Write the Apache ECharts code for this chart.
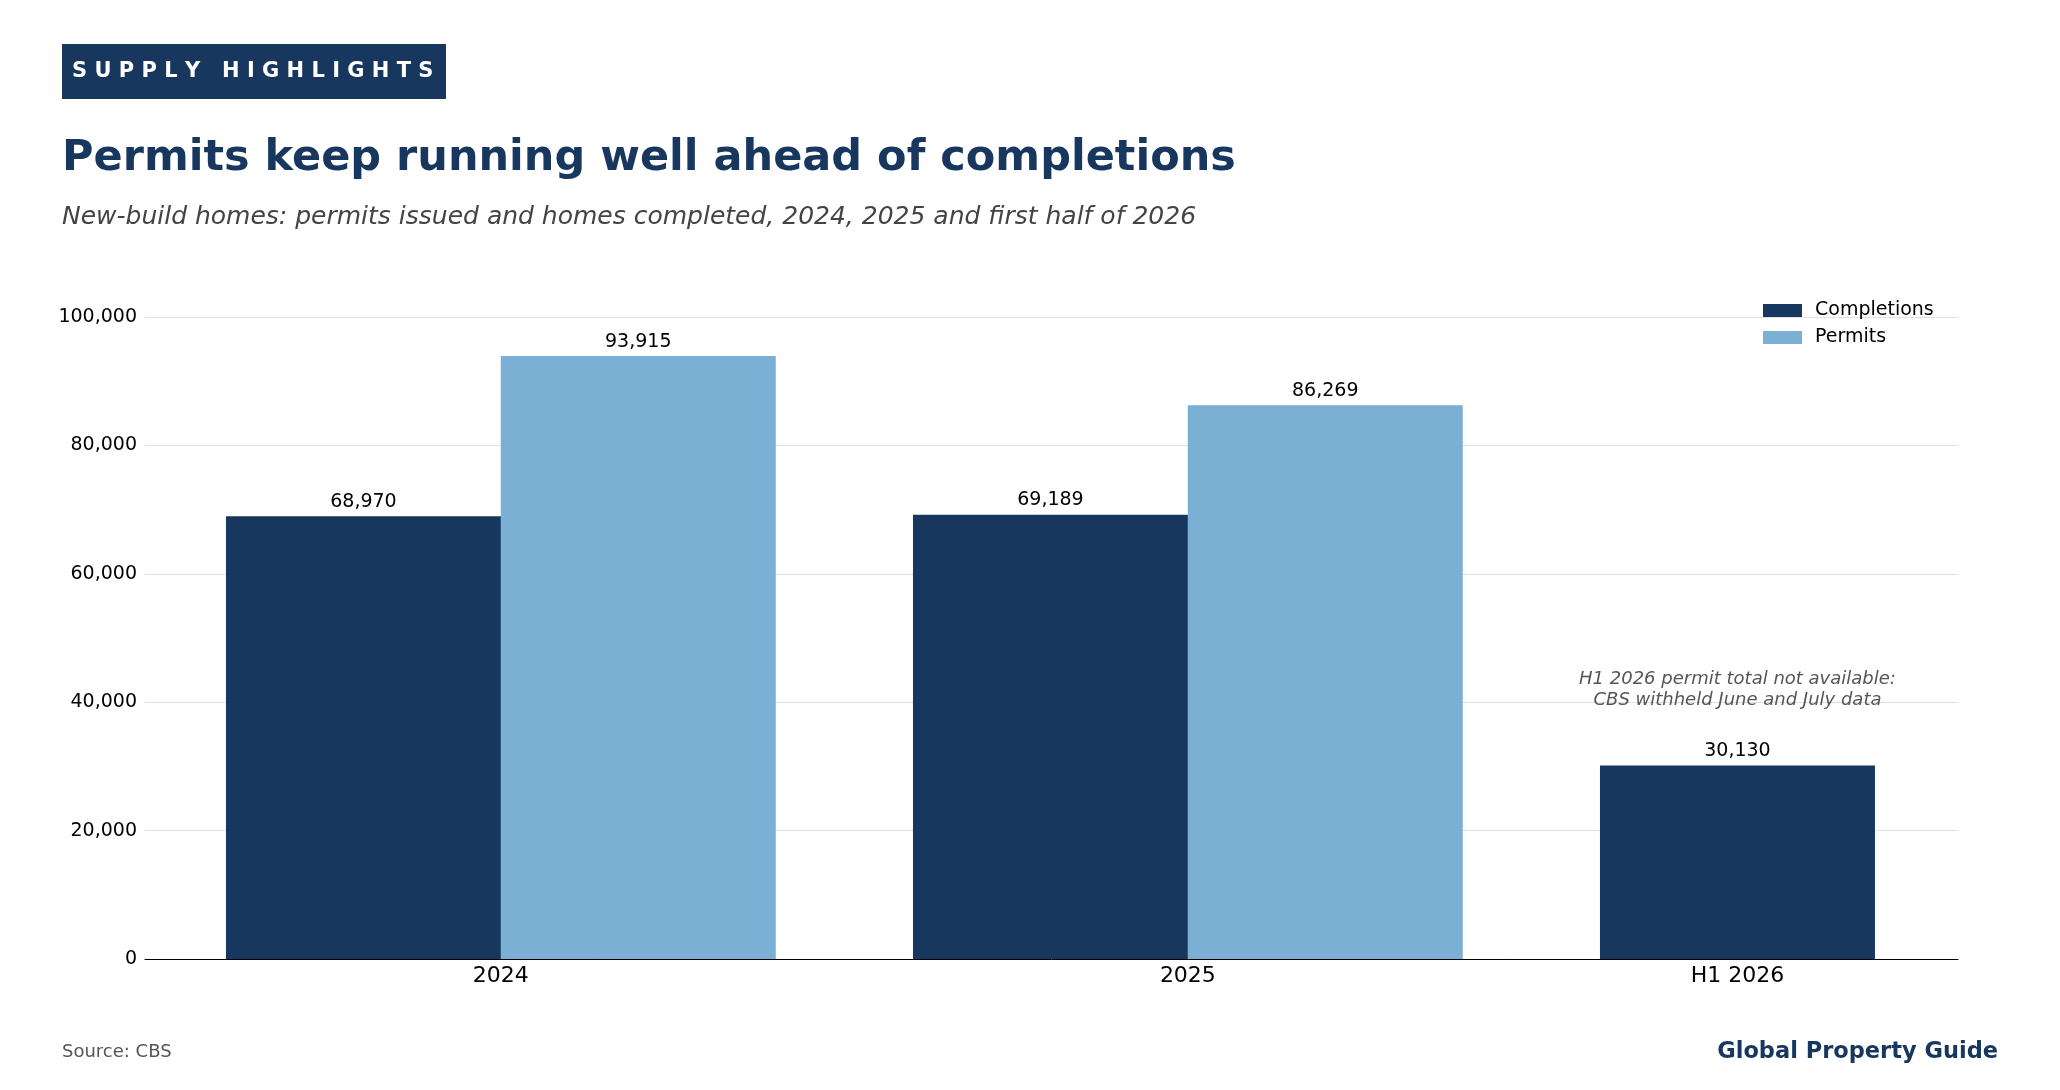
<!DOCTYPE html>
<html><head><meta charset="utf-8">
<script src="https://cdn.jsdelivr.net/npm/echarts@6/dist/echarts.min.js"></script>
<style>html,body{margin:0;padding:0;background:#fff}#c{width:2060px;height:1090px}</style>
</head><body><div id="c"></div>
<script>
const categories = ['2024', '2025', 'H1 2026'];
const catPos = [0, 1, 1.8];
const completions = [68970, 69189, 30130];
const permits = [93915, 86269, null];
const yTicks = [0, 20000, 40000, 60000, 80000, 100000];
const note = 'H1 2026 permit total not available:\nCBS withheld June and July data';

const DARK = '#17375e', LIGHT = '#7bafd4', F = 'DejaVu Sans';
const chart = echarts.init(document.getElementById('c'));
const lbl = {show: true, position: 'top', color: '#000', fontSize: 19, fontFamily: F,
  formatter: p => p.value[1] == null ? '' : p.value[1].toLocaleString('en-US')};
const hasPermit = i => permits[i] != null;
const compData = completions.map((v, i) => [catPos[i] - (hasPermit(i) ? 0.2 : 0), v]);
const permData = permits.map((v, i) => [catPos[i] + 0.2, v]).filter(d => d[1] != null);
chart.setOption({
  animation: false,
  textStyle: {fontFamily: F},
  graphic: [
    {type: 'rect', left: 62, top: 44, shape: {width: 384, height: 55}, style: {fill: DARK}},
    {type: 'text', left: 72, top: 61, style: {text: 'S U P P L Y   H I G H L I G H T S', fill: '#fff', font: 'bold 21px "DejaVu Sans"'}},
    {type: 'text', left: 62, top: 137, style: {text: 'Permits keep running well ahead of completions', fill: DARK, font: 'bold 43px "DejaVu Sans"'}},
    {type: 'text', left: 62, top: 205, style: {text: 'New-build homes: permits issued and homes completed, 2024, 2025 and first half of 2026', fill: '#444', font: 'italic 25px "DejaVu Sans"'}},
    {type: 'text', left: 62, top: 1043, style: {text: 'Source: CBS', fill: '#555', font: '18px "DejaVu Sans"'}},
    {type: 'text', right: 62, top: 1041, style: {text: 'Global Property Guide', fill: DARK, font: 'bold 22.5px "DejaVu Sans"'}}
  ],
  legend: {left: 1758, top: 296, orient: 'vertical', icon: 'rect', itemWidth: 39, itemHeight: 13, itemGap: 8,
    textStyle: {fontSize: 19, color: '#000', padding: [0, 0, 0, 8]}, data: ['Completions', 'Permits']},
  grid: {left: 145, right: 102, top: 317, bottom: 131},
  xAxis: {type: 'value', min: -0.518, max: 2.121, splitLine: {show: false},
    axisLine: {show: true, onZero: false, lineStyle: {color: '#000'}}, axisTick: {show: false},
    axisLabel: {customValues: catPos, fontSize: 22, color: '#000', margin: 6,
      formatter: v => { const i = catPos.findIndex(c => Math.abs(c - v) < 1e-6); return i >= 0 ? categories[i] : ''; }}},
  yAxis: {type: 'value', min: 0, max: 100000, interval: 20000,
    axisLine: {show: false}, axisTick: {show: false},
    axisLabel: {fontSize: 19, color: '#000', formatter: v => yTicks.includes(v) ? v.toLocaleString('en-US') : ''},
    splitLine: {lineStyle: {color: '#e0e0e0'}}},
  series: [
    {name: 'Completions', type: 'bar', stack: 'all', barWidth: 275, data: compData, itemStyle: {color: DARK}, label: lbl,
     markPoint: {symbol: 'circle', symbolSize: 0, data: [{coord: [1.8, 42000]}],
       label: {show: true, formatter: note, color: '#555', fontStyle: 'italic', fontSize: 18, lineHeight: 21, align: 'center'}}},
    {name: 'Permits', type: 'bar', stack: 'all', barWidth: 275, data: permData, itemStyle: {color: LIGHT}, label: lbl}
  ]
});
</script></body></html>
